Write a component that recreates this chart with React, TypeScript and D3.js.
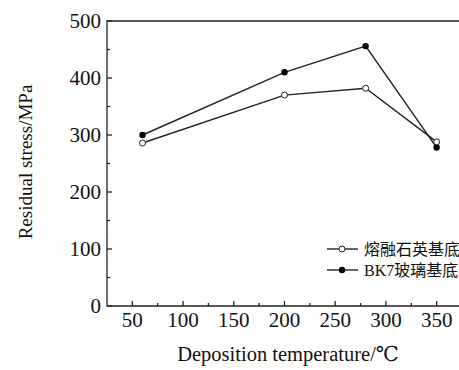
import React from "react";
import * as d3 from "d3";

const temperatures = [60, 200, 280, 350];
const fusedSilica = [286, 370, 382, 288];
const bk7 = [300, 410, 456, 278];
const seriesNames = ["熔融石英基底", "BK7玻璃基底"];
const xTicks = [50, 100, 150, 200, 250, 300, 350];
const xMinorTicks = [75, 125, 175, 225, 275, 325];
const yTicks = [0, 100, 200, 300, 400, 500];
const yMinorTicks = [50, 150, 250, 350, 450];

const W = 459, H = 370;
const M = { left: 107, top: 21, right: 462, bottom: 306 };
const font = "Liberation Serif, Times New Roman, Times, DejaVu Serif, serif";
const ink = "#222";

export default function App() {
  const x = d3.scaleLinear().domain([25, 375]).range([M.left, M.right]);
  const y = d3.scaleLinear().domain([0, 500]).range([M.bottom, M.top]);
  const line = d3.line<number>().x((_, i) => x(temperatures[i])).y((d) => y(d));

  return (
    <svg width={W} height={H} style={{ position: "absolute", left: 0, top: 0, background: "#fff" }}>
      <path d={`M${M.left},${M.bottom}V${M.top}H${M.right}V${M.bottom}Z`} fill="none" stroke={ink} strokeWidth={1.3} />
      {yTicks.map((t) => (
        <g key={"y" + t}>
          <line x1={M.left} x2={M.left + 5} y1={y(t)} y2={y(t)} stroke={ink} strokeWidth={1.3} />
          <text x={M.left - 6} y={y(t)} dy="0.35em" textAnchor="end" fontFamily={font} fontSize={21} fill="#111">{t}</text>
        </g>
      ))}
      {yMinorTicks.map((t) => (
        <line key={"ym" + t} x1={M.left} x2={M.left + 3} y1={y(t)} y2={y(t)} stroke={ink} strokeWidth={1.3} />
      ))}
      {xTicks.map((t) => (
        <g key={"x" + t}>
          <line x1={x(t)} x2={x(t)} y1={M.bottom} y2={M.bottom - 5} stroke={ink} strokeWidth={1.3} />
          <text x={x(t)} y={M.bottom + 21} textAnchor="middle" fontFamily={font} fontSize={21} fill="#111">{t}</text>
        </g>
      ))}
      {xMinorTicks.map((t) => (
        <line key={"xm" + t} x1={x(t)} x2={x(t)} y1={M.bottom} y2={M.bottom - 3} stroke={ink} strokeWidth={1.3} />
      ))}
      <text x={288} y={361} textAnchor="middle" fontFamily={font} fontSize={20.5} fill="#111">Deposition temperature/℃</text>
      <text transform={`translate(32,${162}) rotate(-90)`} textAnchor="middle" fontFamily={font} fontSize={19} fill="#111">Residual stress/MPa</text>
      <path d={line(bk7) || ""} fill="none" stroke={ink} strokeWidth={1.4} />
      <path d={line(fusedSilica) || ""} fill="none" stroke={ink} strokeWidth={1.4} />
      {bk7.map((v, i) => (
        <circle key={"b" + i} cx={x(temperatures[i])} cy={y(v)} r={3.2} fill="#000" />
      ))}
      {fusedSilica.map((v, i) => (
        <circle key={"f" + i} cx={x(temperatures[i])} cy={y(v)} r={3} fill="#fff" stroke={ink} strokeWidth={1} />
      ))}
      {seriesNames.map((name, i) => {
        const ly = 249 + i * 21;
        return (
          <g key={name}>
            <line x1={327} x2={358} y1={ly} y2={ly} stroke={ink} strokeWidth={1.4} />
            {i === 0 ? (
              <circle cx={342} cy={ly} r={3} fill="#fff" stroke={ink} strokeWidth={1} />
            ) : (
              <circle cx={342} cy={ly} r={3.2} fill="#000" />
            )}
            <text x={364} y={ly} dy="0.35em" fontFamily={"Liberation Serif, Noto Sans CJK SC, serif"} fontSize={16} fill="#111">{name}</text>
          </g>
        );
      })}
    </svg>
  );
}
